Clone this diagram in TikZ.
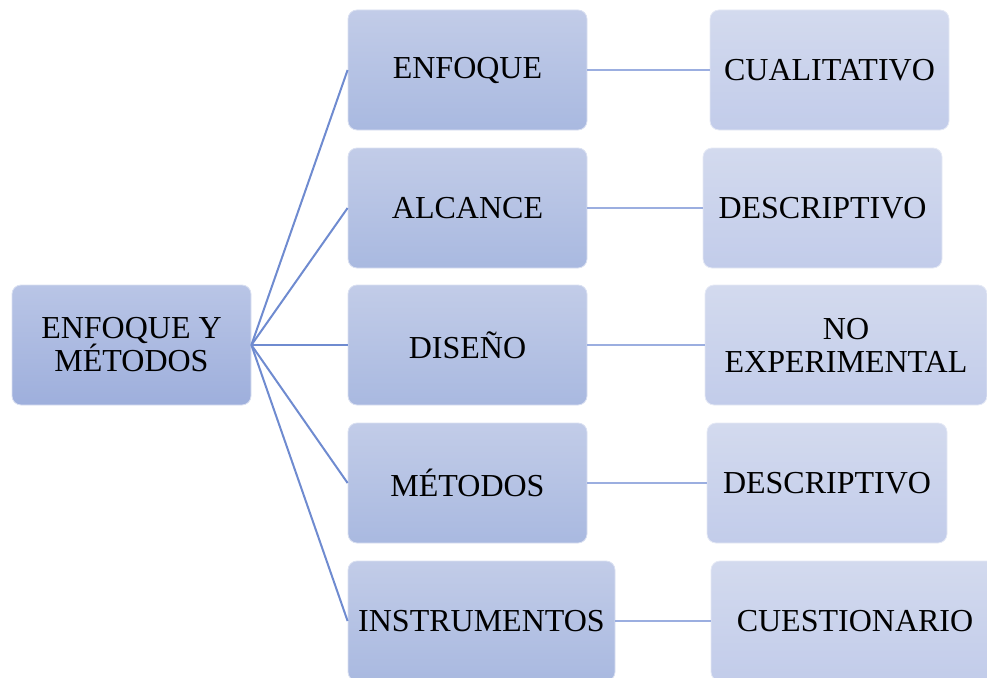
\documentclass[tikz,border=0pt]{standalone}
\usepackage{fontspec}
\setmainfont{Liberation Serif}
\definecolor{rootT}{HTML}{B9C5E6}
\definecolor{rootB}{HTML}{9EAFDC}
\definecolor{midT}{HTML}{C2CCE8}
\definecolor{midB}{HTML}{A9B9E0}
\definecolor{rgtT}{HTML}{D3DAEE}
\definecolor{rgtB}{HTML}{C2CCEA}
\definecolor{fanC}{HTML}{6F8BD0}
\definecolor{linkC}{HTML}{9BAEE0}
\tikzset{
  box/.style={rectangle, rounded corners=9pt, inner sep=0pt, align=center,
    font=\fontsize{32}{33}\selectfont, text=black, draw=white!40!midT, line width=0.8pt},
  rootbox/.style={box, top color=rootT, bottom color=rootB, minimum width=239pt, minimum height=120pt},
  midbox/.style={box, top color=midT, bottom color=midB, minimum height=120pt},
  rgtbox/.style={box, top color=rgtT, bottom color=rgtB, minimum height=120pt, draw=white!40!rgtT},
  fan/.style={draw=fanC, line width=2pt},
  link/.style={draw=linkC, line width=2pt}
}
\begin{document}
\begin{tikzpicture}[x=1pt,y=-1pt]
\useasboundingbox (0,0) rectangle (987,677);
\clip (0,0) rectangle (987,677);
\node[rootbox] (root) at (131.5,345) {ENFOQUE Y\\MÉTODOS};
\node[midbox, minimum width=239pt] (m1) at (467.5,70) {ENFOQUE};
\node[midbox, minimum width=239pt] (m2) at (467.5,208) {ALCANCE};
\node[midbox, minimum width=239pt] (m3) at (467.5,345) {DISEÑO};
\node[midbox, minimum width=239pt] (m4) at (467.5,483) {MÉTODOS};
\node[midbox, minimum width=267pt] (m5) at (481.5,621) {INSTRUMENTOS};
\node[rgtbox, minimum width=239pt] (r1) at (829.5,70) {CUALITATIVO};
\node[rgtbox, minimum width=239pt] (r2) at (822.5,208) {DESCRIPTIVO};
\node[rgtbox, minimum width=282pt] (r3) at (846,345) {NO\\EXPERIMENTAL};
\node[rgtbox, minimum width=240pt] (r4) at (827,483) {DESCRIPTIVO};
\node[rgtbox, minimum width=288pt] (r5) at (855,621) {CUESTIONARIO};
\foreach \m in {m1,m2,m3,m4,m5}{\draw[fan] (root.east) -- (\m.west);}
\draw[link] (m1.east) -- (r1.west);
\draw[link] (m2.east) -- (r2.west);
\draw[link] (m3.east) -- (r3.west);
\draw[link] (m4.east) -- (r4.west);
\draw[link] (m5.east) -- (r5.west);
\end{tikzpicture}
\end{document}
